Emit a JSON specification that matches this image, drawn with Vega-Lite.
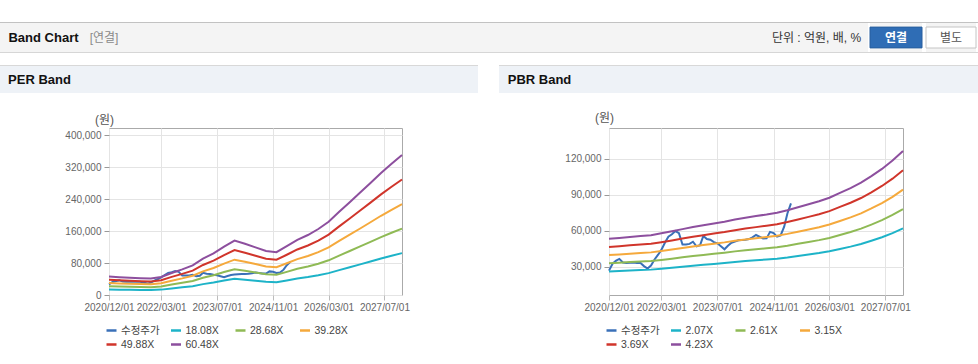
{
  "$schema": "https://vega.github.io/schema/vega-lite/v6.json",
  "background": "white",
  "padding": {"left": 0, "top": 22, "right": 0, "bottom": 0},
  "config": {
    "font": "Liberation Sans, Noto Sans CJK KR, sans-serif",
    "view": {"stroke": null}
  },
  "datasets": {
    "none": [],
    "price": [
      {"d": "2020-12-01", "s": "수정주가", "v": 26700},
      {"d": "2021-01-01", "s": "수정주가", "v": 32500},
      {"d": "2021-02-01", "s": "수정주가", "v": 35000},
      {"d": "2021-03-01", "s": "수정주가", "v": 36500},
      {"d": "2021-04-01", "s": "수정주가", "v": 33500},
      {"d": "2021-05-01", "s": "수정주가", "v": 33000},
      {"d": "2021-06-01", "s": "수정주가", "v": 33300},
      {"d": "2021-07-01", "s": "수정주가", "v": 33500},
      {"d": "2021-08-01", "s": "수정주가", "v": 33000},
      {"d": "2021-09-01", "s": "수정주가", "v": 33000},
      {"d": "2021-10-01", "s": "수정주가", "v": 30500},
      {"d": "2021-11-01", "s": "수정주가", "v": 28500},
      {"d": "2021-12-01", "s": "수정주가", "v": 31000},
      {"d": "2022-01-01", "s": "수정주가", "v": 36000},
      {"d": "2022-02-01", "s": "수정주가", "v": 40000},
      {"d": "2022-03-01", "s": "수정주가", "v": 44000},
      {"d": "2022-04-01", "s": "수정주가", "v": 50000},
      {"d": "2022-05-01", "s": "수정주가", "v": 55000},
      {"d": "2022-06-01", "s": "수정주가", "v": 57000},
      {"d": "2022-07-01", "s": "수정주가", "v": 59700},
      {"d": "2022-08-01", "s": "수정주가", "v": 58000},
      {"d": "2022-09-01", "s": "수정주가", "v": 48500},
      {"d": "2022-10-01", "s": "수정주가", "v": 48500},
      {"d": "2022-11-01", "s": "수정주가", "v": 49000},
      {"d": "2022-12-01", "s": "수정주가", "v": 50800},
      {"d": "2023-01-01", "s": "수정주가", "v": 47000},
      {"d": "2023-02-01", "s": "수정주가", "v": 48000},
      {"d": "2023-03-01", "s": "수정주가", "v": 55600},
      {"d": "2023-04-01", "s": "수정주가", "v": 53000},
      {"d": "2023-05-01", "s": "수정주가", "v": 52500},
      {"d": "2023-06-01", "s": "수정주가", "v": 50500},
      {"d": "2023-07-01", "s": "수정주가", "v": 49500},
      {"d": "2023-08-01", "s": "수정주가", "v": 47000},
      {"d": "2023-09-01", "s": "수정주가", "v": 44500},
      {"d": "2023-10-01", "s": "수정주가", "v": 47500},
      {"d": "2023-11-01", "s": "수정주가", "v": 50000},
      {"d": "2023-12-01", "s": "수정주가", "v": 51000},
      {"d": "2024-01-01", "s": "수정주가", "v": 52000},
      {"d": "2024-02-01", "s": "수정주가", "v": 52200},
      {"d": "2024-03-01", "s": "수정주가", "v": 52500},
      {"d": "2024-04-01", "s": "수정주가", "v": 53000},
      {"d": "2024-05-01", "s": "수정주가", "v": 54500},
      {"d": "2024-06-01", "s": "수정주가", "v": 56400},
      {"d": "2024-07-01", "s": "수정주가", "v": 55000},
      {"d": "2024-08-01", "s": "수정주가", "v": 53500},
      {"d": "2024-09-01", "s": "수정주가", "v": 53600},
      {"d": "2024-10-01", "s": "수정주가", "v": 59000},
      {"d": "2024-11-01", "s": "수정주가", "v": 58000},
      {"d": "2024-12-01", "s": "수정주가", "v": 55000},
      {"d": "2025-01-01", "s": "수정주가", "v": 56000},
      {"d": "2025-02-01", "s": "수정주가", "v": 63300},
      {"d": "2025-03-01", "s": "수정주가", "v": 74400},
      {"d": "2025-04-01", "s": "수정주가", "v": 82800}
    ],
    "per": [
      {"d": "2020-12-01", "s": "18.08X", "v": 13750}, {"d": "2020-12-01", "s": "28.68X", "v": 21810}, {"d": "2020-12-01", "s": "39.28X", "v": 29880}, {"d": "2020-12-01", "s": "49.88X", "v": 37940}, {"d": "2020-12-01", "s": "60.48X", "v": 46000},
      {"d": "2021-03-01", "s": "18.08X", "v": 13300}, {"d": "2021-03-01", "s": "28.68X", "v": 21100}, {"d": "2021-03-01", "s": "39.28X", "v": 28900}, {"d": "2021-03-01", "s": "49.88X", "v": 36700}, {"d": "2021-03-01", "s": "60.48X", "v": 44500},
      {"d": "2021-06-01", "s": "18.08X", "v": 12850}, {"d": "2021-06-01", "s": "28.68X", "v": 20390}, {"d": "2021-06-01", "s": "39.28X", "v": 27930}, {"d": "2021-06-01", "s": "49.88X", "v": 35460}, {"d": "2021-06-01", "s": "60.48X", "v": 43000},
      {"d": "2021-09-01", "s": "18.08X", "v": 12560}, {"d": "2021-09-01", "s": "28.68X", "v": 19920}, {"d": "2021-09-01", "s": "39.28X", "v": 27280}, {"d": "2021-09-01", "s": "49.88X", "v": 34640}, {"d": "2021-09-01", "s": "60.48X", "v": 42000},
      {"d": "2021-12-01", "s": "18.08X", "v": 12260}, {"d": "2021-12-01", "s": "28.68X", "v": 19440}, {"d": "2021-12-01", "s": "39.28X", "v": 26630}, {"d": "2021-12-01", "s": "49.88X", "v": 33810}, {"d": "2021-12-01", "s": "60.48X", "v": 41000},
      {"d": "2022-03-01", "s": "18.08X", "v": 13450}, {"d": "2022-03-01", "s": "28.68X", "v": 21340}, {"d": "2022-03-01", "s": "39.28X", "v": 29230}, {"d": "2022-03-01", "s": "49.88X", "v": 37110}, {"d": "2022-03-01", "s": "60.48X", "v": 45000},
      {"d": "2022-06-01", "s": "18.08X", "v": 16440}, {"d": "2022-06-01", "s": "28.68X", "v": 26080}, {"d": "2022-06-01", "s": "39.28X", "v": 35720}, {"d": "2022-06-01", "s": "49.88X", "v": 45360}, {"d": "2022-06-01", "s": "60.48X", "v": 55000},
      {"d": "2022-09-01", "s": "18.08X", "v": 19130}, {"d": "2022-09-01", "s": "28.68X", "v": 30350}, {"d": "2022-09-01", "s": "39.28X", "v": 41570}, {"d": "2022-09-01", "s": "49.88X", "v": 52780}, {"d": "2022-09-01", "s": "60.48X", "v": 64000},
      {"d": "2022-12-01", "s": "18.08X", "v": 22120}, {"d": "2022-12-01", "s": "28.68X", "v": 35090}, {"d": "2022-12-01", "s": "39.28X", "v": 48060}, {"d": "2022-12-01", "s": "49.88X", "v": 61030}, {"d": "2022-12-01", "s": "60.48X", "v": 74000},
      {"d": "2023-03-01", "s": "18.08X", "v": 27200}, {"d": "2023-03-01", "s": "28.68X", "v": 43150}, {"d": "2023-03-01", "s": "39.28X", "v": 59100}, {"d": "2023-03-01", "s": "49.88X", "v": 75050}, {"d": "2023-03-01", "s": "60.48X", "v": 91000},
      {"d": "2023-06-01", "s": "18.08X", "v": 31090}, {"d": "2023-06-01", "s": "28.68X", "v": 49320}, {"d": "2023-06-01", "s": "39.28X", "v": 67540}, {"d": "2023-06-01", "s": "49.88X", "v": 85770}, {"d": "2023-06-01", "s": "60.48X", "v": 104000},
      {"d": "2023-09-01", "s": "18.08X", "v": 36170}, {"d": "2023-09-01", "s": "28.68X", "v": 57380}, {"d": "2023-09-01", "s": "39.28X", "v": 78590}, {"d": "2023-09-01", "s": "49.88X", "v": 99790}, {"d": "2023-09-01", "s": "60.48X", "v": 121000},
      {"d": "2023-12-01", "s": "18.08X", "v": 40660}, {"d": "2023-12-01", "s": "28.68X", "v": 64490}, {"d": "2023-12-01", "s": "39.28X", "v": 88330}, {"d": "2023-12-01", "s": "49.88X", "v": 112160}, {"d": "2023-12-01", "s": "60.48X", "v": 136000},
      {"d": "2024-03-01", "s": "18.08X", "v": 38260}, {"d": "2024-03-01", "s": "28.68X", "v": 60700}, {"d": "2024-03-01", "s": "39.28X", "v": 83130}, {"d": "2024-03-01", "s": "49.88X", "v": 105570}, {"d": "2024-03-01", "s": "60.48X", "v": 128000},
      {"d": "2024-06-01", "s": "18.08X", "v": 35570}, {"d": "2024-06-01", "s": "28.68X", "v": 56430}, {"d": "2024-06-01", "s": "39.28X", "v": 77290}, {"d": "2024-06-01", "s": "49.88X", "v": 98140}, {"d": "2024-06-01", "s": "60.48X", "v": 119000},
      {"d": "2024-09-01", "s": "18.08X", "v": 32880}, {"d": "2024-09-01", "s": "28.68X", "v": 52160}, {"d": "2024-09-01", "s": "39.28X", "v": 71440}, {"d": "2024-09-01", "s": "49.88X", "v": 90720}, {"d": "2024-09-01", "s": "60.48X", "v": 110000},
      {"d": "2024-12-01", "s": "18.08X", "v": 31990}, {"d": "2024-12-01", "s": "28.68X", "v": 50740}, {"d": "2024-12-01", "s": "39.28X", "v": 69490}, {"d": "2024-12-01", "s": "49.88X", "v": 88250}, {"d": "2024-12-01", "s": "60.48X", "v": 107000},
      {"d": "2025-03-01", "s": "18.08X", "v": 36470}, {"d": "2025-03-01", "s": "28.68X", "v": 57850}, {"d": "2025-03-01", "s": "39.28X", "v": 79240}, {"d": "2025-03-01", "s": "49.88X", "v": 100620}, {"d": "2025-03-01", "s": "60.48X", "v": 122000},
      {"d": "2025-06-01", "s": "18.08X", "v": 41250}, {"d": "2025-06-01", "s": "28.68X", "v": 65440}, {"d": "2025-06-01", "s": "39.28X", "v": 89630}, {"d": "2025-06-01", "s": "49.88X", "v": 113810}, {"d": "2025-06-01", "s": "60.48X", "v": 138000},
      {"d": "2025-09-01", "s": "18.08X", "v": 44840}, {"d": "2025-09-01", "s": "28.68X", "v": 71130}, {"d": "2025-09-01", "s": "39.28X", "v": 97420}, {"d": "2025-09-01", "s": "49.88X", "v": 123710}, {"d": "2025-09-01", "s": "60.48X", "v": 150000},
      {"d": "2025-12-01", "s": "18.08X", "v": 49330}, {"d": "2025-12-01", "s": "28.68X", "v": 78240}, {"d": "2025-12-01", "s": "39.28X", "v": 107160}, {"d": "2025-12-01", "s": "49.88X", "v": 136080}, {"d": "2025-12-01", "s": "60.48X", "v": 165000},
      {"d": "2026-03-01", "s": "18.08X", "v": 54710}, {"d": "2026-03-01", "s": "28.68X", "v": 86780}, {"d": "2026-03-01", "s": "39.28X", "v": 118850}, {"d": "2026-03-01", "s": "49.88X", "v": 150930}, {"d": "2026-03-01", "s": "60.48X", "v": 183000},
      {"d": "2026-06-01", "s": "18.08X", "v": 62180}, {"d": "2026-06-01", "s": "28.68X", "v": 98640}, {"d": "2026-06-01", "s": "39.28X", "v": 135090}, {"d": "2026-06-01", "s": "49.88X", "v": 171550}, {"d": "2026-06-01", "s": "60.48X", "v": 208000},
      {"d": "2026-09-01", "s": "18.08X", "v": 69350}, {"d": "2026-09-01", "s": "28.68X", "v": 110020}, {"d": "2026-09-01", "s": "39.28X", "v": 150680}, {"d": "2026-09-01", "s": "49.88X", "v": 191340}, {"d": "2026-09-01", "s": "60.48X", "v": 232000},
      {"d": "2026-12-01", "s": "18.08X", "v": 76530}, {"d": "2026-12-01", "s": "28.68X", "v": 121400}, {"d": "2026-12-01", "s": "39.28X", "v": 166260}, {"d": "2026-12-01", "s": "49.88X", "v": 211130}, {"d": "2026-12-01", "s": "60.48X", "v": 256000},
      {"d": "2027-03-01", "s": "18.08X", "v": 83700}, {"d": "2027-03-01", "s": "28.68X", "v": 132780}, {"d": "2027-03-01", "s": "39.28X", "v": 181850}, {"d": "2027-03-01", "s": "49.88X", "v": 230930}, {"d": "2027-03-01", "s": "60.48X", "v": 280000},
      {"d": "2027-06-01", "s": "18.08X", "v": 91180}, {"d": "2027-06-01", "s": "28.68X", "v": 144630}, {"d": "2027-06-01", "s": "39.28X", "v": 198090}, {"d": "2027-06-01", "s": "49.88X", "v": 251550}, {"d": "2027-06-01", "s": "60.48X", "v": 305000},
      {"d": "2027-09-01", "s": "18.08X", "v": 98050}, {"d": "2027-09-01", "s": "28.68X", "v": 155540}, {"d": "2027-09-01", "s": "39.28X", "v": 213030}, {"d": "2027-09-01", "s": "49.88X", "v": 270510}, {"d": "2027-09-01", "s": "60.48X", "v": 328000},
      {"d": "2027-12-01", "s": "18.08X", "v": 104630}, {"d": "2027-12-01", "s": "28.68X", "v": 165970}, {"d": "2027-12-01", "s": "39.28X", "v": 227310}, {"d": "2027-12-01", "s": "49.88X", "v": 288660}, {"d": "2027-12-01", "s": "60.48X", "v": 350000}
    ],
    "pbr": [
      {"d": "2020-12-01", "s": "2.07X", "v": 26080}, {"d": "2020-12-01", "s": "2.61X", "v": 32890}, {"d": "2020-12-01", "s": "3.15X", "v": 39690}, {"d": "2020-12-01", "s": "3.69X", "v": 46500}, {"d": "2020-12-01", "s": "4.23X", "v": 53300},
      {"d": "2021-03-01", "s": "2.07X", "v": 26430}, {"d": "2021-03-01", "s": "2.61X", "v": 33320}, {"d": "2021-03-01", "s": "3.15X", "v": 40210}, {"d": "2021-03-01", "s": "3.69X", "v": 47110}, {"d": "2021-03-01", "s": "4.23X", "v": 54000},
      {"d": "2021-06-01", "s": "2.07X", "v": 26820}, {"d": "2021-06-01", "s": "2.61X", "v": 33810}, {"d": "2021-06-01", "s": "3.15X", "v": 40810}, {"d": "2021-06-01", "s": "3.69X", "v": 47800}, {"d": "2021-06-01", "s": "4.23X", "v": 54800},
      {"d": "2021-09-01", "s": "2.07X", "v": 27160}, {"d": "2021-09-01", "s": "2.61X", "v": 34240}, {"d": "2021-09-01", "s": "3.15X", "v": 41330}, {"d": "2021-09-01", "s": "3.69X", "v": 48420}, {"d": "2021-09-01", "s": "4.23X", "v": 55500},
      {"d": "2021-12-01", "s": "2.07X", "v": 27550}, {"d": "2021-12-01", "s": "2.61X", "v": 34740}, {"d": "2021-12-01", "s": "3.15X", "v": 41930}, {"d": "2021-12-01", "s": "3.69X", "v": 49110}, {"d": "2021-12-01", "s": "4.23X", "v": 56300},
      {"d": "2022-03-01", "s": "2.07X", "v": 28290}, {"d": "2022-03-01", "s": "2.61X", "v": 35660}, {"d": "2022-03-01", "s": "3.15X", "v": 43040}, {"d": "2022-03-01", "s": "3.69X", "v": 50420}, {"d": "2022-03-01", "s": "4.23X", "v": 57800},
      {"d": "2022-06-01", "s": "2.07X", "v": 29120}, {"d": "2022-06-01", "s": "2.61X", "v": 36710}, {"d": "2022-06-01", "s": "3.15X", "v": 44310}, {"d": "2022-06-01", "s": "3.69X", "v": 51900}, {"d": "2022-06-01", "s": "4.23X", "v": 59500},
      {"d": "2022-09-01", "s": "2.07X", "v": 30000}, {"d": "2022-09-01", "s": "2.61X", "v": 37820}, {"d": "2022-09-01", "s": "3.15X", "v": 45650}, {"d": "2022-09-01", "s": "3.69X", "v": 53470}, {"d": "2022-09-01", "s": "4.23X", "v": 61300},
      {"d": "2022-12-01", "s": "2.07X", "v": 30830}, {"d": "2022-12-01", "s": "2.61X", "v": 38870}, {"d": "2022-12-01", "s": "3.15X", "v": 46910}, {"d": "2022-12-01", "s": "3.69X", "v": 54960}, {"d": "2022-12-01", "s": "4.23X", "v": 63000},
      {"d": "2023-03-01", "s": "2.07X", "v": 31560}, {"d": "2023-03-01", "s": "2.61X", "v": 39800}, {"d": "2023-03-01", "s": "3.15X", "v": 48030}, {"d": "2023-03-01", "s": "3.69X", "v": 56270}, {"d": "2023-03-01", "s": "4.23X", "v": 64500},
      {"d": "2023-06-01", "s": "2.07X", "v": 32300}, {"d": "2023-06-01", "s": "2.61X", "v": 40720}, {"d": "2023-06-01", "s": "3.15X", "v": 49150}, {"d": "2023-06-01", "s": "3.69X", "v": 57570}, {"d": "2023-06-01", "s": "4.23X", "v": 66000},
      {"d": "2023-09-01", "s": "2.07X", "v": 33030}, {"d": "2023-09-01", "s": "2.61X", "v": 41650}, {"d": "2023-09-01", "s": "3.15X", "v": 50270}, {"d": "2023-09-01", "s": "3.69X", "v": 58880}, {"d": "2023-09-01", "s": "4.23X", "v": 67500},
      {"d": "2023-12-01", "s": "2.07X", "v": 33910}, {"d": "2023-12-01", "s": "2.61X", "v": 42760}, {"d": "2023-12-01", "s": "3.15X", "v": 51610}, {"d": "2023-12-01", "s": "3.69X", "v": 60450}, {"d": "2023-12-01", "s": "4.23X", "v": 69300},
      {"d": "2024-03-01", "s": "2.07X", "v": 34650}, {"d": "2024-03-01", "s": "2.61X", "v": 43690}, {"d": "2024-03-01", "s": "3.15X", "v": 52720}, {"d": "2024-03-01", "s": "3.69X", "v": 61760}, {"d": "2024-03-01", "s": "4.23X", "v": 70800},
      {"d": "2024-06-01", "s": "2.07X", "v": 35330}, {"d": "2024-06-01", "s": "2.61X", "v": 44550}, {"d": "2024-06-01", "s": "3.15X", "v": 53770}, {"d": "2024-06-01", "s": "3.69X", "v": 62980}, {"d": "2024-06-01", "s": "4.23X", "v": 72200},
      {"d": "2024-09-01", "s": "2.07X", "v": 35970}, {"d": "2024-09-01", "s": "2.61X", "v": 45350}, {"d": "2024-09-01", "s": "3.15X", "v": 54730}, {"d": "2024-09-01", "s": "3.69X", "v": 64120}, {"d": "2024-09-01", "s": "4.23X", "v": 73500},
      {"d": "2024-12-01", "s": "2.07X", "v": 36700}, {"d": "2024-12-01", "s": "2.61X", "v": 46280}, {"d": "2024-12-01", "s": "3.15X", "v": 55850}, {"d": "2024-12-01", "s": "3.69X", "v": 65430}, {"d": "2024-12-01", "s": "4.23X", "v": 75000},
      {"d": "2025-03-01", "s": "2.07X", "v": 37680}, {"d": "2025-03-01", "s": "2.61X", "v": 47510}, {"d": "2025-03-01", "s": "3.15X", "v": 57340}, {"d": "2025-03-01", "s": "3.69X", "v": 67170}, {"d": "2025-03-01", "s": "4.23X", "v": 77000},
      {"d": "2025-06-01", "s": "2.07X", "v": 38900}, {"d": "2025-06-01", "s": "2.61X", "v": 49050}, {"d": "2025-06-01", "s": "3.15X", "v": 59200}, {"d": "2025-06-01", "s": "3.69X", "v": 69350}, {"d": "2025-06-01", "s": "4.23X", "v": 79500},
      {"d": "2025-09-01", "s": "2.07X", "v": 40130}, {"d": "2025-09-01", "s": "2.61X", "v": 50600}, {"d": "2025-09-01", "s": "3.15X", "v": 61060}, {"d": "2025-09-01", "s": "3.69X", "v": 71530}, {"d": "2025-09-01", "s": "4.23X", "v": 82000},
      {"d": "2025-12-01", "s": "2.07X", "v": 41350}, {"d": "2025-12-01", "s": "2.61X", "v": 52140}, {"d": "2025-12-01", "s": "3.15X", "v": 62930}, {"d": "2025-12-01", "s": "3.69X", "v": 73710}, {"d": "2025-12-01", "s": "4.23X", "v": 84500},
      {"d": "2026-03-01", "s": "2.07X", "v": 42820}, {"d": "2026-03-01", "s": "2.61X", "v": 53990}, {"d": "2026-03-01", "s": "3.15X", "v": 65160}, {"d": "2026-03-01", "s": "3.69X", "v": 76330}, {"d": "2026-03-01", "s": "4.23X", "v": 87500},
      {"d": "2026-06-01", "s": "2.07X", "v": 44780}, {"d": "2026-06-01", "s": "2.61X", "v": 56460}, {"d": "2026-06-01", "s": "3.15X", "v": 68140}, {"d": "2026-06-01", "s": "3.69X", "v": 79820}, {"d": "2026-06-01", "s": "4.23X", "v": 91500},
      {"d": "2026-09-01", "s": "2.07X", "v": 46730}, {"d": "2026-09-01", "s": "2.61X", "v": 58930}, {"d": "2026-09-01", "s": "3.15X", "v": 71120}, {"d": "2026-09-01", "s": "3.69X", "v": 83310}, {"d": "2026-09-01", "s": "4.23X", "v": 95500},
      {"d": "2026-12-01", "s": "2.07X", "v": 48940}, {"d": "2026-12-01", "s": "2.61X", "v": 61700}, {"d": "2026-12-01", "s": "3.15X", "v": 74470}, {"d": "2026-12-01", "s": "3.69X", "v": 87230}, {"d": "2026-12-01", "s": "4.23X", "v": 100000},
      {"d": "2027-03-01", "s": "2.07X", "v": 51630}, {"d": "2027-03-01", "s": "2.61X", "v": 65100}, {"d": "2027-03-01", "s": "3.15X", "v": 78560}, {"d": "2027-03-01", "s": "3.69X", "v": 92030}, {"d": "2027-03-01", "s": "4.23X", "v": 105500},
      {"d": "2027-06-01", "s": "2.07X", "v": 54560}, {"d": "2027-06-01", "s": "2.61X", "v": 68800}, {"d": "2027-06-01", "s": "3.15X", "v": 83030}, {"d": "2027-06-01", "s": "3.69X", "v": 97270}, {"d": "2027-06-01", "s": "4.23X", "v": 111500},
      {"d": "2027-09-01", "s": "2.07X", "v": 57990}, {"d": "2027-09-01", "s": "2.61X", "v": 73120}, {"d": "2027-09-01", "s": "3.15X", "v": 88240}, {"d": "2027-09-01", "s": "3.69X", "v": 103370}, {"d": "2027-09-01", "s": "4.23X", "v": 118500},
      {"d": "2027-12-01", "s": "2.07X", "v": 61900}, {"d": "2027-12-01", "s": "2.61X", "v": 78050}, {"d": "2027-12-01", "s": "3.15X", "v": 94200}, {"d": "2027-12-01", "s": "3.69X", "v": 110350}, {"d": "2027-12-01", "s": "4.23X", "v": 126500}
    ]
  },
  "spacing": 12,
  "vconcat": [
    {
      "spacing": 0,
      "vconcat": [
        {"width": 978, "height": 1, "view": {"fill": "#c2c2c2", "stroke": null}, "data": {"name": "none"}, "mark": {"type": "point"}},
        {
          "spacing": 0,
          "center": true,
          "hconcat": [
            {"width": 87, "height": 29, "view": {"fill": "#f4f4f4", "stroke": null}, "data": {"values": [{"t": "Band Chart"}]}, "mark": {"type": "text", "fontSize": 13, "fontWeight": "bold", "color": "#111111"}, "encoding": {"text": {"field": "t"}}},
            {"width": 34, "height": 29, "view": {"fill": "#f4f4f4", "stroke": null}, "data": {"values": [{"t": "[연결]"}]}, "mark": {"type": "text", "fontSize": 12, "color": "#8a8a8a"}, "encoding": {"text": {"field": "t"}}},
            {"width": 644, "height": 29, "view": {"fill": "#f4f4f4", "stroke": null}, "data": {"name": "none"}, "mark": {"type": "point"}},
            {"width": 103, "height": 29, "view": {"fill": "#f4f4f4", "stroke": null}, "data": {"values": [{"t": "단위 : 억원, 배, %"}]}, "mark": {"type": "text", "fontSize": 12, "color": "#333333"}, "encoding": {"text": {"field": "t"}}},
            {"width": 52, "height": 29, "view": {"fill": "#f4f4f4", "stroke": null}, "data": {"values": [{"t": "연결"}]},
              "layer": [
                {"mark": {"type": "point", "shape": "M-1,-0.4H1V0.4H-1Z", "size": 2704, "filled": true, "fill": "#2f6db5", "stroke": "#285f9e", "strokeWidth": 1, "opacity": 1}},
                {"mark": {"type": "text", "fontSize": 12, "fontWeight": "bold", "color": "white"}, "encoding": {"text": {"field": "t"}}}
              ]},
            {"width": 50, "height": 29, "view": {"fill": "#f4f4f4", "stroke": null}, "data": {"values": [{"t": "별도"}]},
              "layer": [
                {"mark": {"type": "point", "shape": "M-1,-0.42H1V0.42H-1Z", "size": 2500, "filled": true, "fill": "white", "stroke": "#c4c4c4", "strokeWidth": 1, "opacity": 1}},
                {"mark": {"type": "text", "fontSize": 12, "color": "#555555"}, "encoding": {"text": {"field": "t"}}}
              ]},
            {"width": 8, "height": 29, "view": {"fill": "#f4f4f4", "stroke": null}, "data": {"name": "none"}, "mark": {"type": "point"}}
          ]
        },
        {"width": 978, "height": 1, "view": {"fill": "#d6d6d6", "stroke": null}, "data": {"name": "none"}, "mark": {"type": "point"}}
      ]
    },
    {
      "spacing": 17,
      "vconcat": [
        {
          "spacing": 0,
          "vconcat": [
            {
              "spacing": 0,
              "hconcat": [
                {"width": 478, "height": 1, "view": {"fill": "#d8d8d8", "stroke": null}, "data": {"name": "none"}, "mark": {"type": "point"}},
                {"width": 21, "height": 1, "view": {"fill": null, "stroke": null}, "data": {"name": "none"}, "mark": {"type": "point"}},
                {"width": 479, "height": 1, "view": {"fill": "#d8d8d8", "stroke": null}, "data": {"name": "none"}, "mark": {"type": "point"}}
              ]
            },
            {
              "spacing": 0,
              "hconcat": [
                {"width": 79, "height": 27, "view": {"fill": "#eef2f7", "stroke": null}, "data": {"values": [{"t": "PER Band"}]}, "mark": {"type": "text", "fontSize": 13, "fontWeight": "bold", "color": "#111111"}, "encoding": {"text": {"field": "t"}}},
                {"width": 399, "height": 27, "view": {"fill": "#eef2f7", "stroke": null}, "data": {"name": "none"}, "mark": {"type": "point"}},
                {"width": 21, "height": 27, "view": {"fill": null, "stroke": null}, "data": {"name": "none"}, "mark": {"type": "point"}},
                {"width": 81, "height": 27, "view": {"fill": "#eef2f7", "stroke": null}, "data": {"values": [{"t": "PBR Band"}]}, "mark": {"type": "text", "fontSize": 13, "fontWeight": "bold", "color": "#111111"}, "encoding": {"text": {"field": "t"}}},
                {"width": 398, "height": 27, "view": {"fill": "#eef2f7", "stroke": null}, "data": {"name": "none"}, "mark": {"type": "point"}}
              ]
            }
          ]
        },
        {
          "spacing": 0,
          "resolve": {"scale": {"color": "independent"}, "legend": {"color": "independent"}},
          "hconcat": [
            {"width": 1, "height": 1, "view": {"fill": null, "stroke": null}, "data": {"name": "none"}, "mark": {"type": "point"}},
            {
              "width": 293,
              "height": 167,
              "view": {"stroke": "#aaaaaa", "fill": null},
              "encoding": {
                "x": {"field": "d", "type": "temporal",
                  "scale": {"type": "utc", "domain": [{"year": 2020, "month": 12, "date": 1, "utc": true}, {"year": 2027, "month": 12, "date": 1, "utc": true}]},
                  "axis": {"title": null, "format": "%Y/%m/%d",
                    "values": [{"year": 2020, "month": 12, "date": 1, "utc": true}, {"year": 2022, "month": 3, "date": 1, "utc": true}, {"year": 2023, "month": 7, "date": 1, "utc": true}, {"year": 2024, "month": 11, "date": 1, "utc": true}, {"year": 2026, "month": 3, "date": 1, "utc": true}, {"year": 2027, "month": 7, "date": 1, "utc": true}],
                    "domain": false, "grid": true, "gridColor": "#e4e4e4", "tickColor": "#bbbbbb", "tickSize": 5, "labelColor": "#666666", "labelFontSize": 10, "labelPadding": 2, "labelOverlap": false, "labelFlush": false}},
                "y": {"field": "v", "type": "quantitative",
                  "scale": {"domain": [0, 417500], "nice": false, "zero": false},
                  "axis": {"values": [0, 80000, 160000, 240000, 320000, 400000], "format": ",d", "title": "(원)", "titleAngle": 0, "titleX": -5, "titleY": -9, "titleAlign": "center", "titleBaseline": "middle", "titleFontSize": 12, "titleFontWeight": "normal", "titleColor": "#555555", "minExtent": 107, "domain": false, "grid": true, "gridColor": "#e4e4e4", "tickColor": "#999999", "tickSize": 5, "labelColor": "#666666", "labelFontSize": 10, "labelPadding": 3}},
                "color": {"field": "s", "type": "nominal",
                  "scale": {"domain": ["수정주가", "18.08X", "28.68X", "39.28X", "49.88X", "60.48X"], "range": ["#3a70b8", "#1db3c8", "#8fba55", "#f5a93c", "#d0352b", "#8d4f9e"]},
                  "legend": {"orient": "bottom", "title": null, "direction": "horizontal", "columns": 4, "gridAlign": "all", "symbolType": "stroke", "symbolSize": 100, "symbolStrokeWidth": 2.5, "symbolOffset": -4, "labelFontSize": 10.5, "labelColor": "#444444", "labelOffset": 3, "columnPadding": 5.5, "rowPadding": 2, "offset": 12}}
              },
              "layer": [
                {"data": {"name": "price"}, "mark": {"type": "line", "strokeWidth": 2}},
                {"data": {"name": "per"}, "mark": {"type": "line", "strokeWidth": 2}}
              ]
            },
            {
              "width": 294,
              "height": 167,
              "view": {"stroke": "#aaaaaa", "fill": null},
              "encoding": {
                "x": {"field": "d", "type": "temporal",
                  "scale": {"type": "utc", "domain": [{"year": 2020, "month": 12, "date": 1, "utc": true}, {"year": 2027, "month": 12, "date": 1, "utc": true}]},
                  "axis": {"title": null, "format": "%Y/%m/%d",
                    "values": [{"year": 2020, "month": 12, "date": 1, "utc": true}, {"year": 2022, "month": 3, "date": 1, "utc": true}, {"year": 2023, "month": 7, "date": 1, "utc": true}, {"year": 2024, "month": 11, "date": 1, "utc": true}, {"year": 2026, "month": 3, "date": 1, "utc": true}, {"year": 2027, "month": 7, "date": 1, "utc": true}],
                    "domain": false, "grid": true, "gridColor": "#e4e4e4", "tickColor": "#bbbbbb", "tickSize": 5, "labelColor": "#666666", "labelFontSize": 10, "labelPadding": 2, "labelOverlap": false, "labelFlush": false}},
                "y": {"field": "v", "type": "quantitative",
                  "scale": {"domain": [6400, 145600], "nice": false, "zero": false},
                  "axis": {"values": [30000, 60000, 90000, 120000], "format": ",d", "title": "(원)", "titleAngle": 0, "titleX": -5, "titleY": -11, "titleAlign": "center", "titleBaseline": "middle", "titleFontSize": 12, "titleFontWeight": "normal", "titleColor": "#555555", "minExtent": 198, "maxExtent": 260, "domain": false, "grid": true, "gridColor": "#e4e4e4", "tickColor": "#999999", "tickSize": 5, "labelColor": "#666666", "labelFontSize": 10, "labelPadding": 3}},
                "color": {"field": "s", "type": "nominal",
                  "scale": {"domain": ["수정주가", "2.07X", "2.61X", "3.15X", "3.69X", "4.23X"], "range": ["#3a70b8", "#1db3c8", "#8fba55", "#f5a93c", "#d0352b", "#8d4f9e"]},
                  "legend": {"orient": "bottom", "title": null, "direction": "horizontal", "columns": 4, "gridAlign": "all", "symbolType": "stroke", "symbolSize": 100, "symbolStrokeWidth": 2.5, "symbolOffset": -4, "labelFontSize": 10.5, "labelColor": "#444444", "labelOffset": 3, "columnPadding": 5.5, "rowPadding": 2, "offset": 12}}
              },
              "layer": [
                {"data": {"name": "price"}, "mark": {"type": "line", "strokeWidth": 2}},
                {"data": {"name": "pbr"}, "mark": {"type": "line", "strokeWidth": 2}}
              ]
            }
          ]
        }
      ]
    }
  ]
}
